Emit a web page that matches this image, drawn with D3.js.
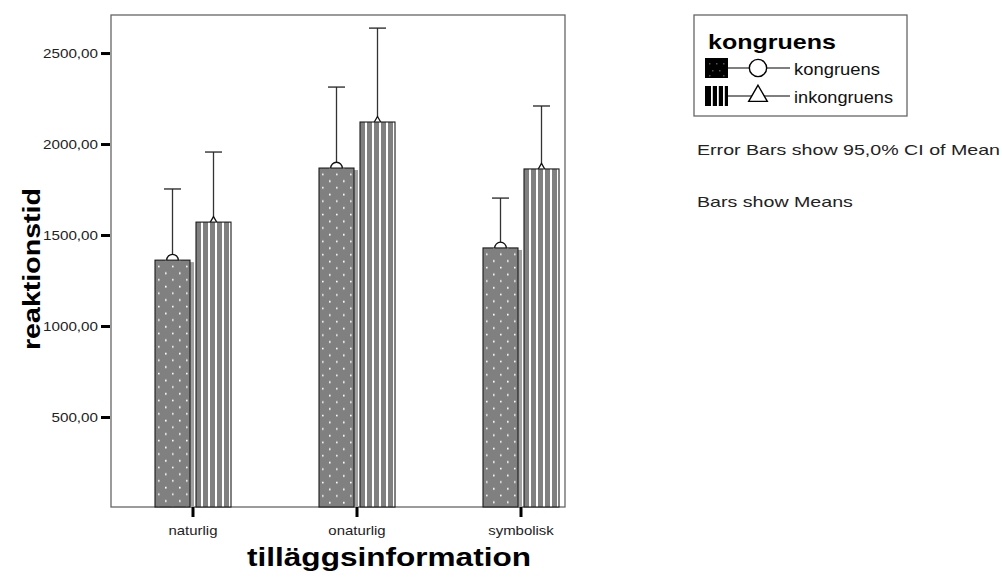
<!DOCTYPE html>
<html>
<head>
<meta charset="utf-8">
<script src="https://cdn.jsdelivr.net/npm/d3@7"></script>
<style>
  body { margin: 0; background: #fff; }
  text { font-family: "Liberation Sans", Arial, sans-serif; }
</style>
</head>
<body>
<script>
// ---- data ----
const categories = ["naturlig", "onaturlig", "symbolisk"];
const series = ["kongruens", "inkongruens"];
const meanKongruens = [1362, 1868, 1429];
const meanInkongruens = [1571, 2121, 1863];
const ciUpperKongruens = [1753, 2313, 1703];
const ciUpperInkongruens = [1956, 2637, 2209];
const yTickValues = [500, 1000, 1500, 2000, 2500];
const yTitle = "reaktionstid";
const xTitle = "tilläggsinformation";
const legendTitle = "kongruens";
const notes = ["Error Bars show 95,0% CI of Mean", "Bars show Means"];

const W = 1002, H = 584;
const svg = d3.select("body").append("svg").attr("width", W).attr("height", H);
const defs = svg.append("defs");

const frame = { left: 111, top: 15, right: 565, bottom: 507 };
const x = d3.scaleBand().domain(categories).range([111, 603]);
const xs = d3.scaleBand().domain(series).range([-38, 38]).paddingInner(6 / 41);
const y = d3.scaleLinear().domain([0, 2709]).range([508, 15]);

const fmt = v => d3.format(".2f")(v).replace(".", ",");

// text stretch helper (reference text is wider than plain Arial)
function fit(sel, target, refText) {
  const tmp = svg.append("text").attr("font-size", sel.attr("font-size"))
    .attr("font-weight", sel.attr("font-weight") || "normal").text(refText);
  const sx = target / tmp.node().getComputedTextLength();
  tmp.remove();
  sel.each(function () {
    const w = this.getComputedTextLength();
    d3.select(this).attr("textLength", w * sx).attr("lengthAdjust", "spacingAndGlyphs");
  });
}

// frame
svg.append("rect")
  .attr("x", frame.left).attr("y", frame.top)
  .attr("width", frame.right - frame.left).attr("height", frame.bottom - frame.top)
  .attr("fill", "none").attr("stroke", "#666").attr("stroke-width", 1.3);

// data rows
const rows = [];
categories.forEach((c, i) => {
  rows.push({ cat: c, ser: "kongruens", mean: meanKongruens[i], hi: ciUpperKongruens[i], i });
  rows.push({ cat: c, ser: "inkongruens", mean: meanInkongruens[i], hi: ciUpperInkongruens[i], i });
});

const cx = d => x(d.cat) + x.bandwidth() / 2 + xs(d.ser);
const ccx = d => cx(d) + xs.bandwidth() / 2;

// patterns
rows.forEach((d, k) => {
  const bx = cx(d), by = y(d.mean);
  if (d.ser === "kongruens") {
    const p = defs.append("pattern").attr("id", "pat" + k)
      .attr("patternUnits", "userSpaceOnUse")
      .attr("x", bx).attr("y", by).attr("width", 14).attr("height", 13.4);
    p.append("rect").attr("width", 14).attr("height", 13.4).attr("fill", "#808080");
    p.append("rect").attr("x", 3).attr("y", 5.5).attr("width", 1.6).attr("height", 1.6).attr("fill", "#fff");
    p.append("rect").attr("x", 10).attr("y", 12.2).attr("width", 1.6).attr("height", 1.6).attr("fill", "#fff");
    p.append("rect").attr("x", 10).attr("y", -0.5).attr("width", 1.6).attr("height", 1.1).attr("fill", "#fff");
  } else {
    const p = defs.append("pattern").attr("id", "pat" + k)
      .attr("patternUnits", "userSpaceOnUse")
      .attr("x", bx).attr("y", 0).attr("width", 7).attr("height", 10);
    p.append("rect").attr("width", 7).attr("height", 10).attr("fill", "#808080");
    p.append("rect").attr("x", 5).attr("y", 0).attr("width", 2).attr("height", 10).attr("fill", "#fff");
  }
});

// shadows for kongruens bars
svg.append("g").selectAll("rect").data(rows.filter(d => d.ser === "kongruens")).join("rect")
  .attr("x", d => cx(d) + 4).attr("y", d => y(d.mean) + 2)
  .attr("width", xs.bandwidth()).attr("height", d => frame.bottom - y(d.mean) - 2)
  .attr("fill", "#a0a0a0");

// error bars (upper part) + markers (behind bars)
const eg = svg.append("g");
eg.selectAll("line.err").data(rows).join("line").attr("class", "err")
  .attr("x1", ccx).attr("x2", ccx)
  .attr("y1", d => y(d.hi)).attr("y2", d => y(d.mean))
  .attr("stroke", "#333").attr("stroke-width", 1.3);
eg.selectAll("line.cap").data(rows).join("line").attr("class", "cap")
  .attr("x1", d => ccx(d) - 8.5).attr("x2", d => ccx(d) + 8.5)
  .attr("y1", d => y(d.hi)).attr("y2", d => y(d.hi))
  .attr("stroke", "#222").attr("stroke-width", 1.3);
eg.selectAll("path.mk").data(rows).join("path").attr("class", "mk")
  .attr("transform", d => `translate(${ccx(d)},${y(d.mean)})`)
  .attr("d", d => d.ser === "kongruens"
    ? d3.symbol(d3.symbolCircle, 105)()
    : d3.symbol(d3.symbolTriangle, 40)())
  .attr("fill", "#fff").attr("stroke", "#111").attr("stroke-width", 1.3);

// bars
svg.append("g").selectAll("rect").data(rows).join("rect")
  .attr("x", cx).attr("y", d => y(d.mean))
  .attr("width", xs.bandwidth()).attr("height", d => frame.bottom - y(d.mean))
  .attr("fill", (d, k) => `url(#pat${k})`)
  .attr("stroke", "#1a1a1a").attr("stroke-width", 1.1);

// y axis
const yAxis = svg.append("g").attr("transform", `translate(110,0)`)
  .call(d3.axisLeft(y).tickValues(yTickValues).tickFormat(fmt).tickSize(9).tickPadding(3));
yAxis.select(".domain").remove();
yAxis.selectAll(".tick line").attr("stroke", "#000").attr("stroke-width", 3);
const yLab = yAxis.selectAll(".tick text").attr("font-size", 13.5).attr("fill", "#222")
  .attr("font-family", "Liberation Sans, Arial, sans-serif");
fit(yLab, 55, "2500,00");

// x axis
const xAxis = svg.append("g").attr("transform", `translate(0,${frame.bottom})`)
  .call(d3.axisBottom(x).tickSize(10).tickPadding(5));
xAxis.select(".domain").remove();
xAxis.selectAll(".tick line").attr("stroke", "#000").attr("stroke-width", 3);
const xLab = xAxis.selectAll(".tick text").attr("font-size", 13.5).attr("fill", "#222")
  .attr("font-family", "Liberation Sans, Arial, sans-serif")
  .attr("y", 28).attr("dy", null);
fit(xLab, 49, "naturlig");

// axis titles
const yt = svg.append("text").attr("transform", "translate(40,269) rotate(-90)")
  .attr("text-anchor", "middle").attr("font-size", 24).attr("font-weight", "bold")
  .attr("fill", "#000").text(yTitle);
fit(yt, 162, yTitle);
const xt = svg.append("text").attr("x", 389).attr("y", 566)
  .attr("text-anchor", "middle").attr("font-size", 25).attr("font-weight", "bold")
  .attr("fill", "#000").text(xTitle);
fit(xt, 284, xTitle);

// legend
const lg = svg.append("g");
lg.append("rect").attr("x", 694).attr("y", 15).attr("width", 213).attr("height", 101)
  .attr("fill", "#fff").attr("stroke", "#666").attr("stroke-width", 1.3);
const lt = lg.append("text").attr("x", 708).attr("y", 49).attr("font-size", 21)
  .attr("font-weight", "bold").attr("fill", "#000").text(legendTitle);
fit(lt, 128, legendTitle);

const legendRows = [
  { ser: series[0], sy: 58, ly: 68, ty: 75 },
  { ser: series[1], sy: 86, ly: 96, ty: 103 }
];
legendRows.forEach((r, k) => {
  lg.append("rect").attr("x", 705).attr("y", r.sy).attr("width", 23).attr("height", 20).attr("fill", "#000");
  if (k === 0) {
    [[709, 63], [716, 63], [723, 63], [712, 70], [719, 70], [709, 75], [723, 75]].forEach(p =>
      lg.append("rect").attr("x", p[0]).attr("y", p[1]).attr("width", 1.5).attr("height", 1.5).attr("fill", "#555"));
  } else {
    [711, 717, 723].forEach(px =>
      lg.append("rect").attr("x", px).attr("y", r.sy).attr("width", 1.8).attr("height", 20).attr("fill", "#fff"));
  }
  lg.append("line").attr("x1", 728).attr("x2", 790).attr("y1", r.ly).attr("y2", r.ly)
    .attr("stroke", "#000").attr("stroke-width", 1.1);
  lg.append("path").attr("transform", `translate(758,${r.ly})`)
    .attr("d", k === 0 ? d3.symbol(d3.symbolCircle, 235)() : d3.symbol(d3.symbolTriangle, 150)())
    .attr("fill", "#fff").attr("stroke", "#000").attr("stroke-width", 1.4);
  const t = lg.append("text").attr("x", 794).attr("y", r.ty).attr("font-size", 17)
    .attr("fill", "#111").text(r.ser);
  fit(t, k === 0 ? 86 : 99, r.ser);
});

// notes
const nt = svg.append("g").selectAll("text").data(notes).join("text")
  .attr("x", 697).attr("y", (d, i) => i === 0 ? 155 : 207)
  .attr("font-size", 15).attr("fill", "#222").text(d => d);
fit(nt, 303, notes[0]);
</script>
</body>
</html>
